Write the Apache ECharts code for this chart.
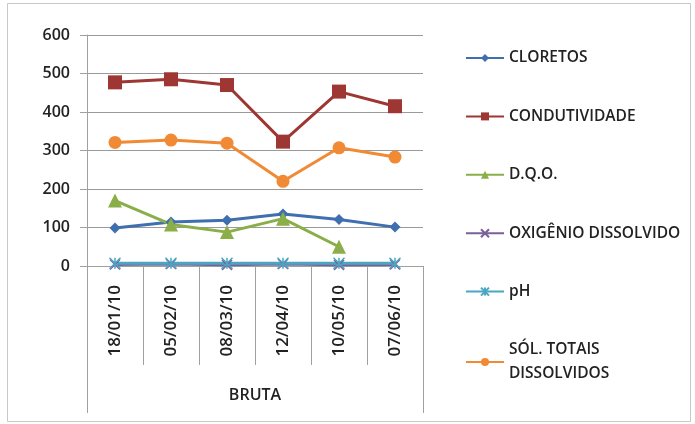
<!DOCTYPE html>
<html><head><meta charset="utf-8">
<script src="https://cdn.jsdelivr.net/npm/echarts@6/dist/echarts.min.js"></script>
<style>html,body{margin:0;padding:0;background:#fff}#c{width:695px;height:424px}</style>
</head><body><div id="c"></div>
<script>
const categories = ['18/01/10','05/02/10','08/03/10','12/04/10','10/05/10','07/06/10'];
const groupLabel = ['BRUTA'];
const cloretos = [99,114,119,135,121,101];
const condutividade = [477,485,470,323,453,415];
const dqo = [170,108,88,123,50,null];
const oxigenio = [4,5,3,5,3,4];
const ph = [7,7,7,7,7,7];
const solidos = [321,327,319,220,307,283];
const names = ['CLORETOS','CONDUTIVIDADE','D.Q.O.','OXIGÊNIO DISSOLVIDO','pH','SÓL. TOTAIS\nDISSOLVIDOS'];

const FONT = 'Open Sans';
const TXT = '#222';
const chart = echarts.init(document.getElementById('c'));
const xPath = 'path://M0,0L10,10M10,0L0,10';
const starPath = 'path://M0,0L10,10M10,0L0,10M5,0L5,10';
function s(name, data, color, symbol, size, stroke){
  return {name, type:'line', data, symbol, symbolSize:size, showSymbol:true,
    lineStyle:{color, width:3}, itemStyle:{color: stroke? 'rgba(0,0,0,0)':color, borderColor:color, borderWidth: stroke?1.5:0},
    z: 3};
}
chart.setOption({
  animation:false,
  textStyle:{fontFamily:FONT},
  graphic:[{type:'rect', shape:{x:7.5,y:3.5,width:683,height:418}, style:{fill:'none', stroke:'#c8c8c8', lineWidth:1}, z:-1}],
  grid:{left:87, right:272, top:35, bottom:158, containLabel:false},
  legend:{orient:'vertical', left:460, top:41, itemWidth:38, itemHeight:10, itemGap:34.4,
    textStyle:{fontFamily:FONT, fontSize:15.5, color:TXT, fontWeight:600, lineHeight:24},
    data: names},
  xAxis:[{type:'category', data:categories, boundaryGap:true, position:'bottom',
      axisLine:{lineStyle:{color:'#a0a0a0', width:1}},
      axisTick:{show:true, length:99, lineStyle:{color:'#a0a0a0'}},
      axisLabel:{rotate:90, color:TXT, fontSize:17, fontWeight:600, fontFamily:FONT, margin:19}},
    {type:'category', data:groupLabel, boundaryGap:true, position:'bottom', offset:0,
      axisLine:{show:false},
      axisTick:{show:true, length:147, lineStyle:{color:'#a0a0a0'}},
      axisLabel:{color:TXT, fontSize:16, fontWeight:600, fontFamily:FONT, margin:121}}],
  yAxis:{type:'value', min:0, max:600, interval:100,
    axisLine:{show:true, lineStyle:{color:'#a0a0a0'}},
    axisTick:{show:true, length:7, lineStyle:{color:'#a0a0a0'}},
    splitLine:{lineStyle:{color:'#9a9a9a', width:1}},
    axisLabel:{color:TXT, fontSize:16, fontWeight:600, fontFamily:FONT, margin:17}},
  series:[
    s(names[0], cloretos, '#3F6FAF', 'diamond', 11),
    s(names[1], condutividade, '#9E3733', 'rect', 14),
    s(names[2], dqo, '#8AAE48', 'triangle', 14),
    s(names[3], oxigenio, '#7A5F9A', xPath, 10, true),
    s(names[4], ph, '#4BA6C2', starPath, 11, true),
    s(names[5], solidos, '#F08A35', 'circle', 13)
  ]
});
</script></body></html>
